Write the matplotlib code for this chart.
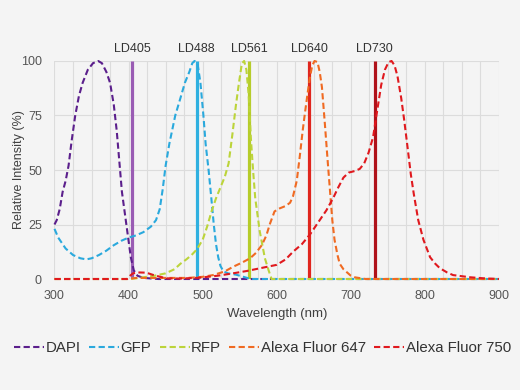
import numpy as np
import matplotlib
matplotlib.use("Agg")
import matplotlib.pyplot as plt

plt.rcParams['font.family'] = ['Liberation Sans', 'DejaVu Sans']

# emission spectra (wavelength nm, relative intensity %)
dapi_x = [300, 303, 307, 311, 315, 319, 323, 328, 333, 338, 345, 352, 359, 364, 370, 375,
          380, 384, 388, 391, 395, 399, 403, 407, 412, 420, 440, 900]
dapi_y = [25, 27, 32, 40, 45, 52, 63, 75, 84, 90, 96, 99, 100, 99, 95, 90,
          80, 68, 52, 40, 30, 20, 10, 4, 1.5, 0.5, 0, 0]

gfp_x = [300, 305, 315, 325, 335, 343, 350, 360, 370, 380, 390, 400, 410, 420, 430, 437,
         442, 446, 450, 455, 463, 470, 476, 482, 486, 489, 493, 497, 501, 504, 508, 512,
         515, 518, 521, 524, 528, 535, 545, 555, 565, 900]
gfp_y = [23, 19, 14, 11, 9.5, 9, 9.5, 11, 13, 15.5, 17.5, 19, 20, 21.5, 24, 27,
         32, 41, 52, 62, 75, 83, 90, 95, 99, 100, 99, 90, 75, 62, 50, 36,
         25, 16, 10, 6, 3.5, 2.5, 2, 1, 0, 0]

rfp_x = [300, 400, 410, 420, 435, 450, 462, 470, 478, 485, 492, 500, 506, 512, 518, 524,
         530, 535, 540, 545, 549, 553, 556, 559, 562, 565, 568, 571, 577, 584, 589, 593, 900]
rfp_y = [0, 0, 0.3, 0.8, 1.5, 2.6, 4.5, 7, 9, 11, 13.5, 18, 24, 31, 37, 42,
         47, 53, 66, 80, 90, 99, 100, 96, 85, 65, 50, 37, 22, 9.5, 4, 0, 0]

af647_x = [300, 400, 410, 450, 480, 500, 514, 530, 541, 553, 564, 572, 580, 586, 591, 597,
           604, 612, 618, 622, 627, 631, 635, 638, 642, 645, 648, 651, 655, 658, 661, 665,
           669, 672, 675, 678, 682, 685, 690, 694, 700, 705, 720, 900]
af647_y = [0, 0, 0.5, 0.5, 0.5, 1, 1.8, 3.5, 5.6, 7.5, 9.5, 12, 15.6, 20, 25.5, 31,
           32.4, 33.5, 35, 38, 45, 56, 68, 76, 86, 93, 98, 100, 99.5, 95, 88, 71,
           53, 40, 27, 18, 11, 7, 4.5, 3.3, 1.5, 0.8, 0, 0]

af750_x = [300, 398, 402, 406, 415, 424, 432, 438, 451, 470, 496, 520, 541, 560, 577, 600,
           612, 622, 634, 645, 656, 667, 676, 683, 690, 697, 705, 712, 718, 724, 730, 735,
           741, 746, 751, 755, 759, 763, 768, 772, 776, 781, 785, 791, 798, 807, 814, 820,
           830, 838, 861, 880, 900]
af750_y = [0, 0, 1.5, 2.6, 3, 2.9, 2, 1.4, 0.3, 0.2, 0.6, 1.5, 2.6, 3.7, 4.9, 6.5,
           9, 12.5, 16, 20.5, 26, 31.5, 37, 42, 46.5, 48.8, 49.5, 50.5, 53, 58, 65, 76,
           89, 96, 99.5, 100, 98, 93, 83, 73, 62, 48, 39, 27, 18, 10, 7, 5,
           3, 1.8, 0.8, 0.3, 0]

dye_names = ["DAPI", "GFP", "RFP", "Alexa Fluor 647", "Alexa Fluor 750"]
dye_colors = ["#5b1f8c", "#2aa9dd", "#bcd43a", "#f06a22", "#e0191e"]

# laser lines as they sit on the picture
laser_labels = ["LD405", "LD488", "LD561", "LD640", "LD730"]
laser_pos = [405, 492, 563, 644, 732]
laser_colors = ["#9a5cb4", "#2fb0e0", "#b6cc2a", "#e0261e", "#b0121a"]

bg = "#f4f4f4"
fig = plt.figure(figsize=(5.2, 3.9), dpi=100, facecolor=bg)
ax = fig.add_axes([0.1048, 0.2846, 0.8548, 0.559])
ax.set_facecolor(bg)

ax.set_xlim(300, 900)
ax.set_ylim(0, 100)
ax.set_xticks(range(300, 901, 100))
ax.set_xticks(range(300, 901, 25), minor=True)
ax.set_yticks(range(0, 101, 25))
ax.grid(True, which="both", axis="x", color="#dcdcdc", lw=0.8)
ax.grid(True, which="major", axis="y", color="#dcdcdc", lw=0.8)
ax.set_axisbelow(True)
for s in ax.spines.values():
    s.set_visible(False)
ax.tick_params(which="both", length=0, colors="#555555", labelsize=9)
ax.tick_params(axis="y", pad=9)
ax.tick_params(axis="x", pad=8)

for pos, lab, c in zip(laser_pos, laser_labels, laser_colors):
    ax.plot([pos, pos], [0, 100], color=c, lw=2.3, solid_capstyle="butt", zorder=2)
    ax.text(pos, 105.5, lab, ha="center", va="center", fontsize=9, color="#333333",
            clip_on=False)

series = [(dapi_x, dapi_y), (gfp_x, gfp_y), (rfp_x, rfp_y), (af647_x, af647_y), (af750_x, af750_y)]
for (xs, ys), name, c in zip(series, dye_names, dye_colors):
    ax.plot(xs, ys, color=c, lw=1.5, ls=(0, (3, 1.6)), label=name, zorder=3, clip_on=False)

ax.set_xlabel("Wavelength (nm)", fontsize=9.5, color="#404040", labelpad=4)
ax.set_ylabel("Relative Intensity (%)", fontsize=9, color="#404040", labelpad=-3)

fig.legend(loc="center", bbox_to_anchor=(0.505, 0.108), ncol=5, frameon=False,
           fontsize=10.8, handlelength=2.0, handletextpad=0.1, columnspacing=0.55,
           labelcolor="#333333")

fig.savefig("out.png", dpi=100, facecolor=bg)
